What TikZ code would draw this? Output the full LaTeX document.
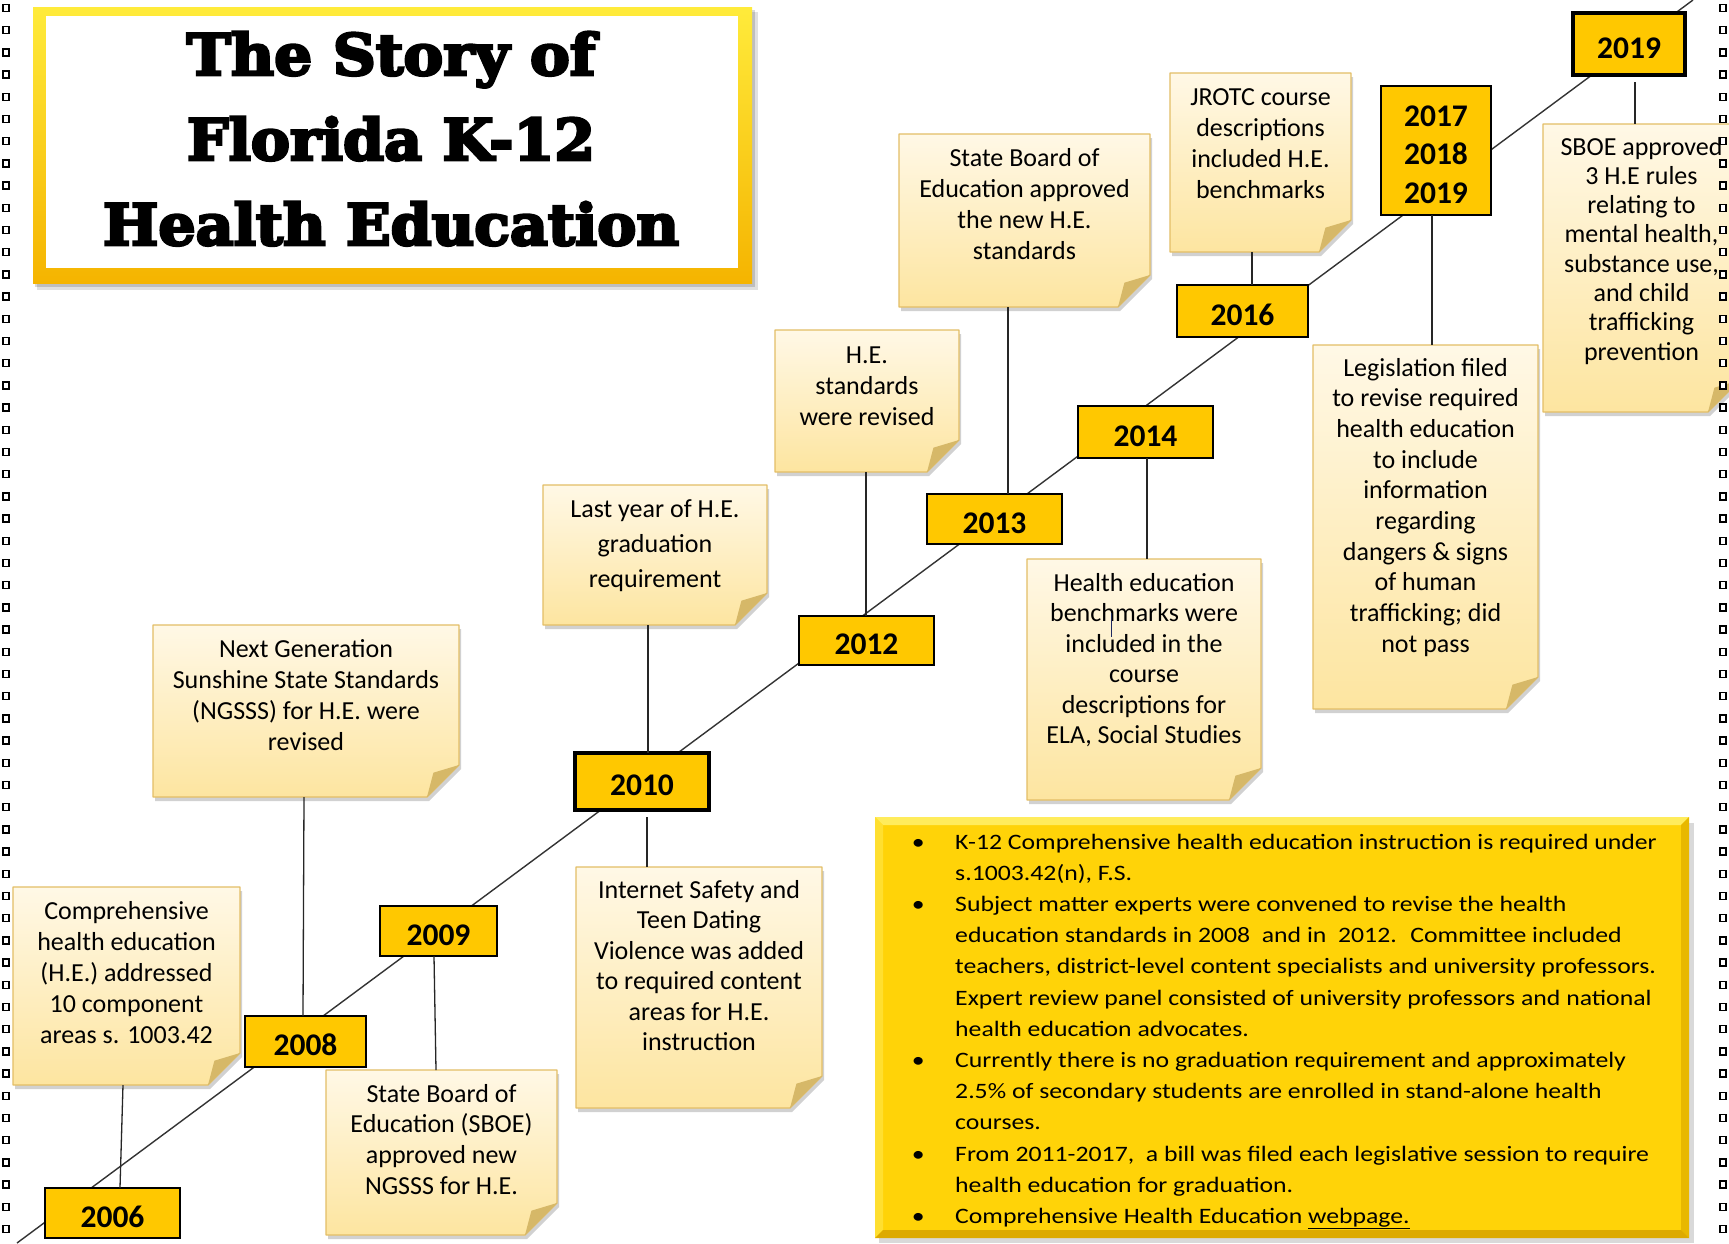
\documentclass[tikz,border=0pt]{standalone}
\usepackage{fontspec}
\usepackage{graphicx}
\setmainfont{Carlito}
\newfontfamily\notefont{Carlito}
\newfontfamily\yearfont{Carlito}
\newfontfamily\bulfont[FakeStretch=1.17]{Carlito}
\newfontfamily\titlefont{DejaVu Serif}
\usetikzlibrary{calc}
\pgfdeclarelayer{bg}
\pgfsetlayers{bg,main}
\definecolor{yeargold}{HTML}{FFC800}
\definecolor{bulgold}{HTML}{FFD308}
\definecolor{bultop}{HTML}{FFEC5C}
\definecolor{bulleft}{HTML}{FFDF30}
\definecolor{bulright}{HTML}{E8B800}
\definecolor{bulbot}{HTML}{DDAA00}
\definecolor{notetop}{HTML}{FFF8E6}
\definecolor{notebot}{HTML}{FDE5A0}
\definecolor{noteedge}{HTML}{E3BE66}
\definecolor{notefold}{HTML}{D6B868}
\definecolor{frametop}{HTML}{FFEB3B}
\definecolor{framebot}{HTML}{F5B400}
\definecolor{cursorblue}{HTML}{1F2A60}
\newlength\fold \setlength\fold{32pt}
\newcommand\heavy[1]{\special{pdf:literal direct q 2 Tr 2.6 w 0 G 0 g}#1\special{pdf:literal direct Q}}
\newcommand\notetext[5]{\parbox[c][#2pt][t]{#1pt}{\centering\notefont\fontsize{26}{#4}\selectfont\rule{0pt}{#3pt}#5\par}}
\newcommand\drawnote[1]{%
\begin{pgfonlayer}{bg}
\path (#1.south east) ++(0pt,\fold) coordinate (#1-f1)
      (#1.south east) ++(-\fold,0pt) coordinate (#1-f2)
      (#1.south east) ++(-0.8\fold,0.76\fold) coordinate (#1-f3);
\fill[black,opacity=0.18] ([shift={(2pt,-4pt)}]#1.north west) -- ([shift={(2pt,-4pt)}]#1.north east) -- ([shift={(2pt,-4pt)}]#1-f1) -- ([shift={(2pt,-4pt)}]#1-f2) -- ([shift={(2pt,-4pt)}]#1.south west) -- cycle;
\shade[top color=notetop,bottom color=notebot] (#1.north west) -- (#1.north east) -- (#1-f1) -- (#1-f2) -- (#1.south west) -- cycle;
\draw[noteedge,line width=1.2pt,line join=round] (#1.north west) -- (#1.north east) -- (#1-f1) -- (#1-f2) -- (#1.south west) -- cycle;
\fill[notefold] (#1-f1) -- (#1-f2) -- (#1-f3) -- cycle;
\end{pgfonlayer}}
\newcommand\bul{\hangindent=55pt\hangafter=1\noindent\makebox[55pt][l]{\makebox[36pt]{\textbullet}}}
\begin{document}
\begin{tikzpicture}[x=1pt,y=-1pt,
  yearbox/.style={draw=black, line width=1.3pt, fill=yeargold, inner sep=0pt, outer sep=0pt,
    font=\yearfont\bfseries\fontsize{31.5}{38.5}\selectfont, text height=28pt, text depth=0pt, align=center},
  thickbox/.style={yearbox, line width=3.8pt},
  note/.style={inner sep=0pt, outer sep=0pt, rectangle},
  conn/.style={draw=black!85, line width=1.3pt},
  tline/.style={draw=black!80, line width=1.4pt},
  sq/.style={draw=black, line width=1.5pt, fill=white}]
\useasboundingbox (0,0) rectangle (1729,1243);
\coordinate (tlA) at (17,1243);
\coordinate (tlB) at (1693,0);
\begin{pgfonlayer}{bg}
\fill[white] (0,0) rectangle (1729,1243);
\draw[tline] (tlA) -- (tlB);
\end{pgfonlayer}

% title frame
\fill[black,opacity=0.12] (37,12) rectangle (758,290);
\fill[black,opacity=0.15] (35,10) rectangle (755,287);
\shade[top color=frametop,bottom color=framebot] (33,7) rectangle (752,283);
\fill[white] (46,16) rectangle (738,268);
\node[anchor=base, inner sep=0pt] (title) at (391,75) {\parbox[t]{700pt}{\centering\titlefont\bfseries\fontsize{57}{85}\selectfont
\resizebox{409pt}{\height}{\heavy{The Story of}}\\
\resizebox{408pt}{\height}{\heavy{Florida K-12}}\\
\resizebox{576pt}{\height}{\heavy{Health Education}}}};

% bullet box
\fill[black,opacity=0.15] (879,823) rectangle (1694,1243);
\fill[bulgold] (875,817) rectangle (1689,1238);
\fill[bultop] (875,817) -- (1689,817) -- (1681,825) -- (883,825) -- cycle;
\fill[bulleft] (875,817) -- (883,825) -- (883,1230) -- (875,1238) -- cycle;
\fill[bulright] (1689,817) -- (1689,1238) -- (1681,1230) -- (1681,825) -- cycle;
\fill[bulbot] (875,1238) -- (883,1230) -- (1681,1230) -- (1689,1238) -- cycle;
\node[anchor=base west, inner sep=0pt] (bultext) at (900,849) {\parbox[t]{800pt}{\bulfont\fontsize{22}{31.2}\selectfont\raggedright
\bul K-12 Comprehensive health education instruction is required under\newline s.1003.42(n), F.S.\par
\bul Subject matter experts were convened to revise the health\newline education standards in 2008~ and in~ 2012.~ Committee included\newline teachers, district-level content specialists and university professors.\newline Expert review panel consisted of university professors and national\newline health education advocates.\par
\bul Currently there is no graduation requirement and approximately\newline 2.5\% of secondary students are enrolled in stand-alone health\newline courses.\par
\bul From 2011-2017,~ a bill was filed each legislative session to require\newline health education for graduation.\par
\bul Comprehensive Health Education \underline{webpage.}\par}};

% notes
\node[note] (n1) at (126.5,986) {\notetext{227}{198}{32}{31}{Comprehensive\\health education\\(H.E.) addressed\\10 component\\areas s. 1003.42}};
\node[note] (n2) at (306,711) {\notetext{306}{172}{32}{31}{Next Generation\\Sunshine State Standards\\(NGSSS) for H.E. were\\revised}};
\node[note] (n3) at (441.5,1152.5) {\notetext{231}{165}{32}{30.8}{State Board of\\Education (SBOE)\\approved new\\NGSSS for H.E.}};
\node[note] (n4) at (655,555) {\notetext{224}{140}{32}{35}{Last year of H.E.\\graduation\\requirement}};
\node[note] (n5) at (699,987.5) {\notetext{246}{241}{31}{30.5}{Internet Safety and\\Teen Dating\\Violence was added\\to required content\\areas for H.E.\\instruction}};
\node[note] (n6) at (867,401) {\notetext{184}{142}{33}{31}{H.E.\\standards\\were revised}};
\node[note] (n7) at (1024.5,220.5) {\notetext{251}{173}{32}{31}{State Board of\\Education approved\\the new H.E.\\standards}};
\node[note] (n8) at (1144,679.5) {\notetext{234}{241}{32}{30.5}{Health education\\benchmarks were\\included in the\\course\\descriptions for\\ELA, Social Studies}};
\node[note] (n9) at (1260.5,162.5) {\notetext{181}{179}{32}{31}{JROTC course\\descriptions\\included H.E.\\benchmarks}};
\node[note] (n10) at (1425.5,527) {\notetext{225}{364}{31}{30.7}{Legislation filed\\to revise required\\health education\\to include\\information\\regarding\\dangers \& signs\\of human\\trafficking; did\\not pass}};
\node[note] (n11) at (1641.5,268) {\notetext{197}{288}{31}{29.3}{SBOE approved\\3 H.E rules\\relating to\\mental health,\\substance use,\\and child\\trafficking\\prevention}};
\foreach \n in {n1,n2,n3,n4,n5,n6,n7,n8,n9,n10,n11} {\drawnote{\n}}
\draw[cursorblue, line width=1pt] (1111,613) -- (1111,637);

% year boxes
\node[yearbox, minimum width=135pt, minimum height=50pt] (y2006) at (112.5,1213) {2006};
\node[yearbox, minimum width=121pt, minimum height=51pt] (y2008) at (305.5,1041.5) {2008};
\node[yearbox, minimum width=117pt, minimum height=50pt] (y2009) at (438.5,931) {2009};
\node[thickbox, minimum width=134pt, minimum height=57pt] (y2010) at (642,781.5) {2010};
\node[yearbox, minimum width=135pt, minimum height=49pt] (y2012) at (866.5,640.5) {2012};
\node[yearbox, minimum width=135pt, minimum height=50pt] (y2013) at (994.5,519) {2013};
\node[yearbox, minimum width=135pt, minimum height=52pt] (y2014) at (1145.5,432) {2014};
\node[yearbox, minimum width=131pt, minimum height=52pt] (y2016) at (1242.5,311) {2016};
\node[yearbox, minimum width=110pt, minimum height=129pt, text height=105pt] (y2017) at (1436,150.5) {2017\\2018\\2019};
\node[thickbox, minimum width=112pt, minimum height=62pt] (y2019) at (1629,44) {2019};

% connectors
\draw[conn] ([xshift=-3.5pt]n1.south) -- ([xshift=7.5pt]y2006.north);
\draw[conn] ([xshift=-2pt]n2.south) -- ([xshift=-2.5pt]y2008.north);
\draw[conn] ([xshift=-4.5pt]y2009.south) -- ([xshift=-5.5pt]n3.north);
\draw[conn] ([xshift=-7pt]n4.south) -- ([xshift=6pt]y2010.north);
\draw[conn] ([xshift=5pt,yshift=-7pt]y2010.south) -- ([xshift=-52pt]n5.north);
\draw[conn] ([xshift=-1pt]n6.south) -- ([xshift=-0.5pt]y2012.north);
\draw[conn] ([xshift=-16.5pt]n7.south) -- ([xshift=13.5pt]y2013.north);
\draw[conn] ([xshift=1.5pt]y2014.south) -- ([xshift=3pt]n8.north);
\draw[conn] ([xshift=-8.5pt]n9.south) -- ([xshift=9.5pt]y2016.north);
\draw[conn] ([xshift=-4pt]y2017.south) -- ([xshift=6.5pt]n10.north);
\draw[conn] ([xshift=6pt,yshift=-7pt]y2019.south) -- ([xshift=-6.5pt]n11.north);

% page border squares
\foreach \i in {0,...,55} {
  \pgfmathsetmacro\yy{8+22.2*\i}
  \draw[sq] (2.8,\yy-3.5) rectangle (9.2,\yy+3.5);
  \draw[sq] (1719.8,\yy-3.5) rectangle (1726.2,\yy+3.5);
}
\end{tikzpicture}
\end{document}
